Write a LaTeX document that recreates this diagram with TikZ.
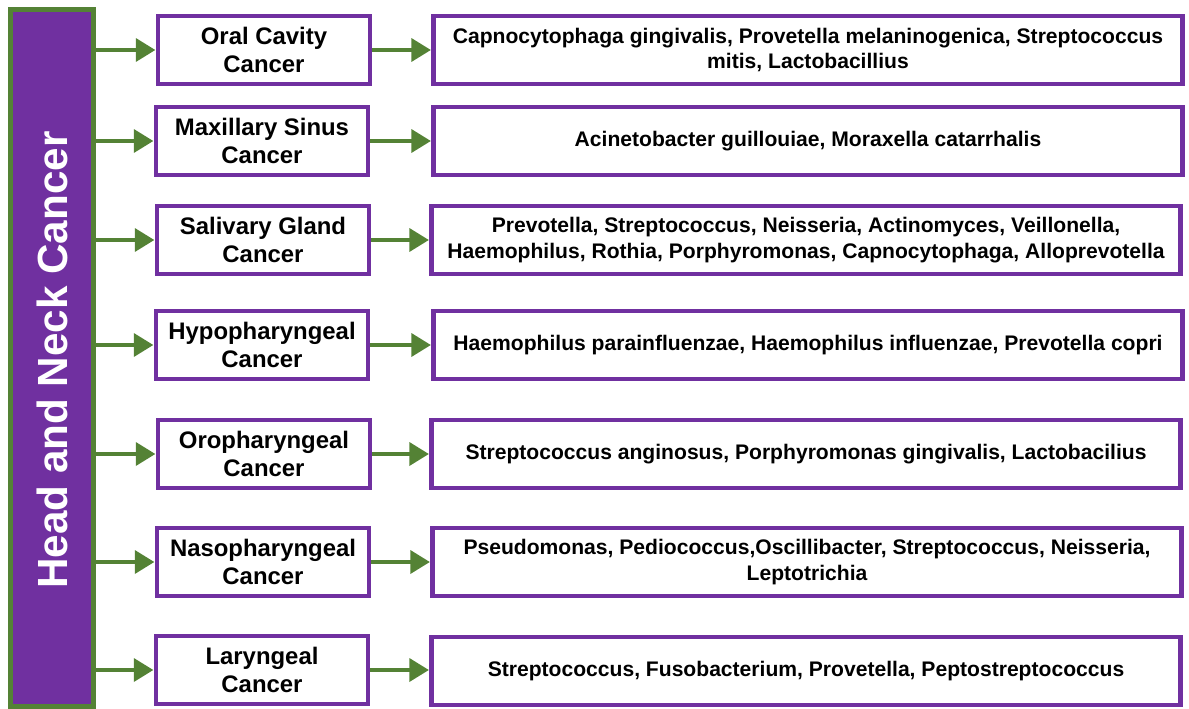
\documentclass[tikz,border=0pt]{standalone}
\usepackage{fontspec}
\setmainfont{Liberation Sans}
\usetikzlibrary{arrows.meta}
\definecolor{hncpurple}{HTML}{7030A0}
\definecolor{hncgreen}{HTML}{548235}
\begin{document}
\begin{tikzpicture}[
    x=0.025cm, y=-0.025cm,
    sitebox/.style={rectangle, draw=hncpurple, line width=3.5pt, fill=white, minimum width=5.3cm, minimum height=1.7cm, align=center, font=\fontsize{17}{19.5}\selectfont\bfseries},
    taxabox/.style={rectangle, draw=hncpurple, line width=3.5pt, fill=white, minimum width=18.72cm, minimum height=1.7cm, align=center, font=\fontsize{15}{18}\selectfont\bfseries},
    flow/.style={draw=hncgreen, line width=3.5pt, -{Triangle[length=14pt, width=16pt]}},
]
\useasboundingbox (0,0) rectangle (1189,709);
\node[rectangle, draw=hncgreen, fill=hncpurple, line width=3.5pt, minimum width=2.08cm, minimum height=17.42cm] (bar) at (52,358) {};
\node[rotate=90, text=white, font=\fontsize{30}{36}\selectfont\bfseries] (title) at (52,360) {Head and Neck Cancer};
% cancer sites
\node[sitebox] (m1) at (264,50) {Oral Cavity\\Cancer};
\node[sitebox] (m2) at (262,141) {Maxillary Sinus\\Cancer};
\node[sitebox] (m3) at (263,240) {Salivary Gland\\Cancer};
\node[sitebox] (m4) at (262,345) {Hypopharyngeal\\Cancer};
\node[sitebox] (m5) at (264,454) {Oropharyngeal\\Cancer};
\node[sitebox] (m6) at (263,562) {Nasopharyngeal\\Cancer};
\node[sitebox] (m7) at (262,670) {Laryngeal\\Cancer};
% microbes
\node[taxabox] (t1) at (808,50) {Capnocytophaga gingivalis, Provetella melaninogenica, Streptococcus\\mitis, Lactobacillius};
\node[taxabox] (t2) at (808,141) {Acinetobacter guillouiae, Moraxella catarrhalis};
\node[taxabox] (t3) at (806,240) {Prevotella, Streptococcus, Neisseria, Actinomyces, Veillonella,\\Haemophilus, Rothia, Porphyromonas, Capnocytophaga, Alloprevotella};
\node[taxabox] (t4) at (808,345) {Haemophilus parainfluenzae, Haemophilus influenzae, Prevotella copri};
\node[taxabox] (t5) at (806,454) {Streptococcus anginosus, Porphyromonas gingivalis, Lactobacilius};
\node[taxabox] (t6) at (807,562) {Pseudomonas, Pediococcus,Oscillibacter, Streptococcus, Neisseria,\\Leptotrichia};
\node[taxabox] (t7) at (806,671) {Streptococcus, Fusobacterium, Provetella, Peptostreptococcus};
\foreach \i in {1,...,7}{
  \draw[flow] (bar.east |- m\i.west) -- (m\i.west);
  \draw[flow] (m\i.east) -- (m\i.east -| t\i.west);
}
\end{tikzpicture}
\end{document}
